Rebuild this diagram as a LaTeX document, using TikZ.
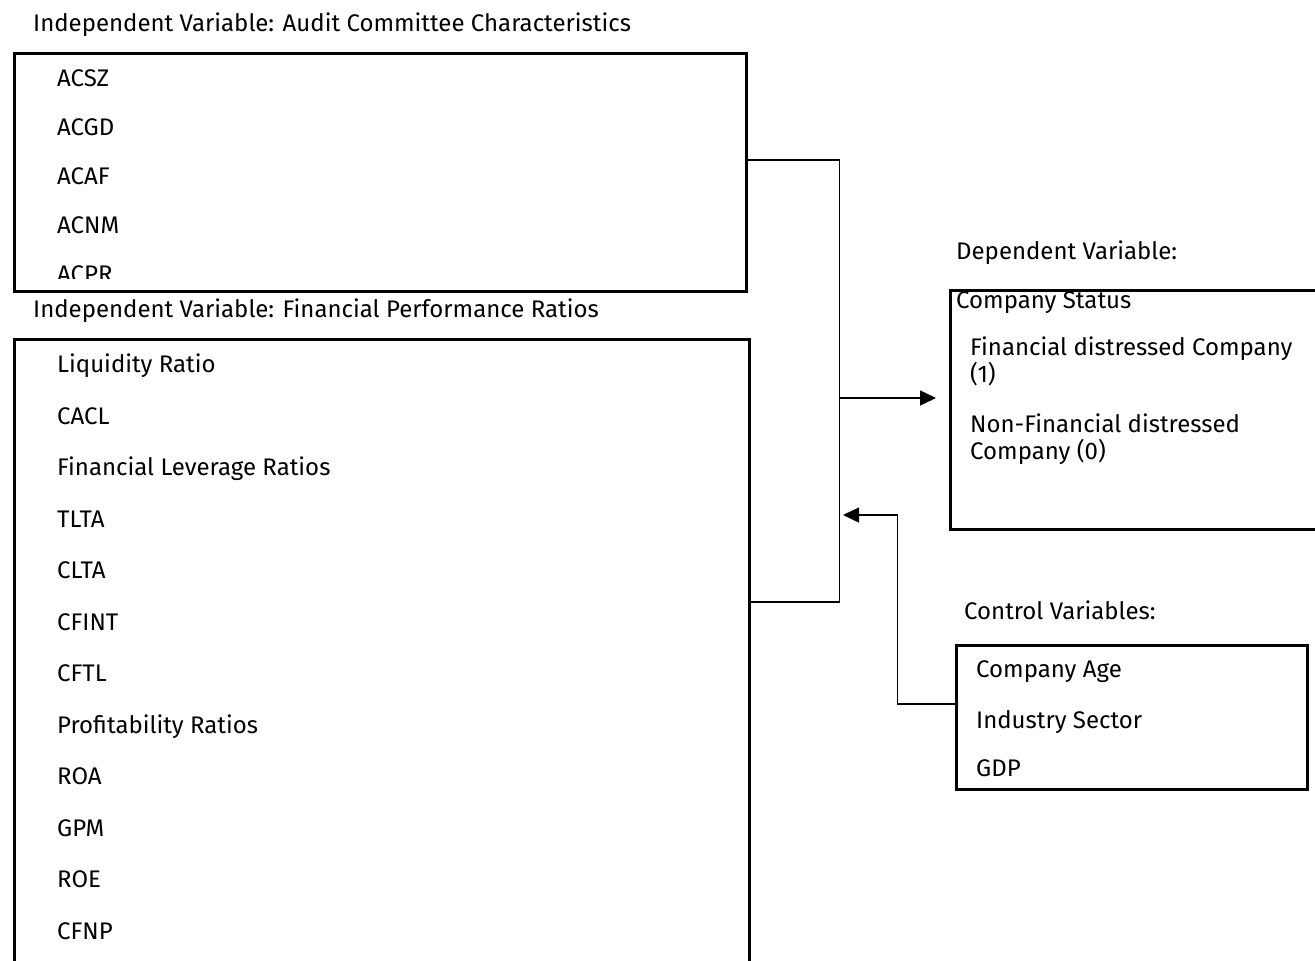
\documentclass[tikz,border=0pt]{standalone}
\usepackage{fontspec}
\setmainfont{Fira Sans}
\usetikzlibrary{arrows.meta}
\begin{document}
\begin{tikzpicture}[x=1pt,y=-1pt,
  box/.style={draw, line width=2.6pt, inner sep=0pt, anchor=north west},
  lbl/.style={anchor=base west, inner sep=0pt, font=\fontsize{24}{28}\selectfont},
  conn/.style={line width=1.4pt},
  tip/.style={-{Triangle[length=16pt,width=15pt]}}]
\useasboundingbox (0,0) rectangle (1315,961);
\fill[white] (0,0) rectangle (1315,961);

% titles
\node[lbl] (t1) at (33,31) {Independent Variable: Audit Committee Characteristics};
\node[lbl] (t2) at (33,317) {Independent Variable: Financial Performance Ratios};
\node[lbl] (t3) at (956,259) {Dependent Variable:};
\node[lbl] (t4) at (964,619) {Control Variables:};

% boxes
\node[box, minimum width=732pt, minimum height=238pt] (box1) at (13,52) {};
\node[box, minimum width=735pt, minimum height=700pt] (box2) at (13,338) {};
\node[box, minimum width=420pt, minimum height=239pt] (box3) at (949,289) {};
\node[box, minimum width=351pt, minimum height=144pt] (box4) at (955,644) {};

% box1 items
\node[lbl] (a1) at (57,86) {ACSZ};
\node[lbl] (a2) at (57,135.2) {ACGD};
\node[lbl] (a3) at (57,184.4) {ACAF};
\node[lbl] (a4) at (57,233.6) {ACNM};
\begin{scope}
\clip (0,0) rectangle (760,278.5);
\node[lbl] (a5) at (57,282.8) {ACPR};
\end{scope}

% box2 items
\node[lbl] (b1) at (57,372.8) {Liquidity Ratio};
\node[lbl] (b2) at (57,424.3) {CACL};
\node[lbl] (b3) at (57,475.8) {Financial Leverage Ratios};
\node[lbl] (b4) at (57,527.3) {TLTA};
\node[lbl] (b5) at (57,578.8) {CLTA};
\node[lbl] (b6) at (57,630.3) {CFINT};
\node[lbl] (b7) at (57,681.8) {CFTL};
\node[lbl] (b8) at (57,733.3) {Profitability Ratios};
\node[lbl] (b9) at (57,784.8) {ROA};
\node[lbl] (b10) at (57,836.3) {GPM};
\node[lbl] (b11) at (57,887.8) {ROE};
\node[lbl] (b12) at (57,939.3) {CFNP};

% box3 items
\node[lbl] (c0) at (956,308) {Company Status};
\node[lbl] (c1) at (970,355) {Financial distressed Company};
\node[lbl] (c2) at (970,382) {(1)};
\node[lbl] (c3) at (970,432.5) {Non-Financial distressed};
\node[lbl] (c4) at (970,459) {Company (0)};

% box4 items
\node[lbl] (d1) at (976,677) {Company Age};
\node[lbl] (d2) at (976,728) {Industry Sector};
\node[lbl] (d3) at (976,776) {GDP};

% connectors
\coordinate (bt) at (839.5,160);
\coordinate (bb) at (839.5,602);
\coordinate (bm) at (839.5,398);
\coordinate (ca) at (897.5,704);
\coordinate (cb) at (897.5,515);
\coordinate (ct) at (843,515);
\draw[conn] (box1.east |- bt) -- (bt) -- (bb) -- (box2.east |- bb);
\draw[conn,tip,shorten >=13pt] (bm) -- (box3.west |- bm);
\draw[conn,tip] (box4.west |- ca) -- (ca) -- (cb) -- (ct);
\end{tikzpicture}
\end{document}
